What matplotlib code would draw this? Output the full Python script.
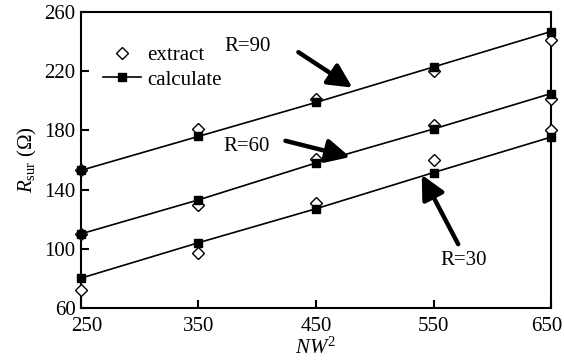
import matplotlib.pyplot as plt
import matplotlib.transforms as mtransforms
import numpy as np

plt.rcParams['font.family'] = 'Liberation Serif'
plt.rcParams['mathtext.fontset'] = 'custom'
plt.rcParams['mathtext.rm'] = 'Liberation Serif'
plt.rcParams['mathtext.it'] = 'Liberation Serif:italic'

# Dados
nw2 = [250, 350, 450, 550, 650]
r_labels = ['R=90', 'R=60', 'R=30']
extract = [
    [153, 181, 201, 220, 241],
    [110, 129.5, 161, 184, 201],
    [72, 97, 131, 160, 180],
]
calculate = [
    [153, 176, 199, 223, 247],
    [110, 133, 158, 181, 205],
    [80, 104, 127, 151.5, 175.5],
]
# posições das anotações (texto, cauda da seta, ponta da seta)
text_pos = [(392, 237), (391, 169), (576, 92)]
tail_pos = [(435, 233), (424, 173), (571, 103)]
tip_pos = [(481, 209), (479, 162), (540, 150)]

fig = plt.figure(figsize=(5.64, 3.6), dpi=100)
ax = fig.add_axes([0.1436, 0.1453, 0.8334, 0.8205])

for i in range(len(r_labels)):
    ax.plot(nw2, extract[i], linestyle='none', marker='D', markersize=6.5,
            markerfacecolor='white', markeredgecolor='black', markeredgewidth=1,
            clip_on=False, zorder=3, label='extract' if i == 0 else None)
    ax.plot(nw2, calculate[i], color='black', linewidth=1.2, marker='s',
            markersize=5.5, clip_on=False, zorder=4,
            label='calculate' if i == 0 else None)

    ax.annotate('', xy=tip_pos[i], xytext=tail_pos[i],
                arrowprops=dict(arrowstyle='-|>', lw=3.2, color='black',
                                mutation_scale=36, shrinkA=0, shrinkB=0))
    ax.text(text_pos[i][0], text_pos[i][1], r_labels[i], fontsize=15,
            ha='center', va='center')

ax.set_xlim(250, 650)
ax.set_ylim(60, 260)
ax.set_xticks(nw2)
ax.set_yticks(np.arange(60, 261, 40))
ax.tick_params(direction='in', length=6, width=1.5, labelsize=15)
ax.tick_params(axis='x', pad=7)
ax.tick_params(axis='y', pad=4)

# primeiro e último rótulo do eixo x deslocados para dentro
xlabels = ax.get_xticklabels()
for lab, dx in ((xlabels[0], 6), (xlabels[-1], -4)):
    off = mtransforms.ScaledTranslation(dx / 100, 0, fig.dpi_scale_trans)
    lab.set_transform(lab.get_transform() + off)

for s in ax.spines.values():
    s.set_linewidth(1.5)

ax.set_xlabel(r'$NW^{\mathrm{2}}$', fontsize=15, labelpad=1)
ax.set_ylabel(r'$R_{\mathrm{sur}}$ (Ω)', fontsize=15, labelpad=4)

ax.legend(loc='upper left', bbox_to_anchor=(0.03, 0.915), frameon=False,
          fontsize=15, handlelength=1.8, handletextpad=0.3, labelspacing=0.22,
          borderaxespad=0)

fig.savefig('out.png', dpi=100)
